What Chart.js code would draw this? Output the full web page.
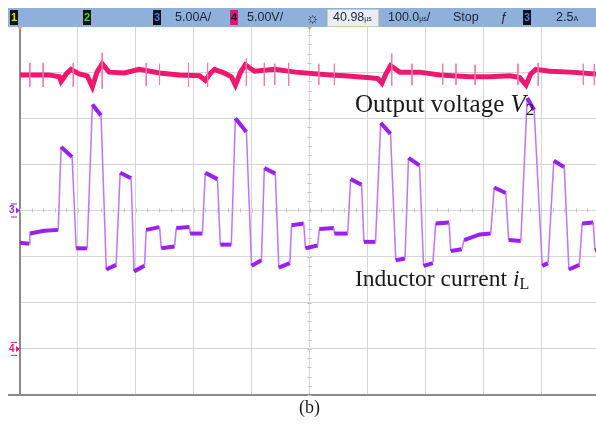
<!DOCTYPE html>
<html>
<head>
<meta charset="utf-8">
<script src="https://cdn.jsdelivr.net/npm/chart.js@4"></script>
<style>
  body { margin: 0; background: #fff; overflow: hidden; width: 596px; height: 426px; position: relative; font-family: "Liberation Sans", Arial, sans-serif; }
  #wrap { position: absolute; left: 0; top: 0; width: 600px; height: 426px; }
  #bar { position: absolute; left: 8px; top: 8px; width: 588px; height: 19px; background: #8fb0da; }
  .t { position: absolute; top: 0; font-size: 12.5px; line-height: 19px; color: #1c2433; white-space: nowrap; }
  .t small { font-size: 7px; }
  .box { position: absolute; top: 2px; width: 8px; height: 15px; background: #111; font-size: 11px; line-height: 15px; text-align: center; font-weight: bold; }
  .lbl { position: absolute; font-family: "Liberation Serif", "Times New Roman", serif; color: #1a1a1a; white-space: nowrap; }
  .lbl sub { font-size: 0.68em; vertical-align: -0.18em; }
</style>
</head>
<body>
<div id="wrap"><canvas id="scope"></canvas></div>

<div id="bar">
  <div class="box" style="left:2px;color:#e8dc10">1</div>
  <div class="box" style="left:75px;color:#2ee02e">2</div>
  <div class="box" style="left:145px;color:#3a7cff">3</div>
  <div class="t" style="left:167px">5.00A/</div>
  <div class="box" style="left:222px;background:#e8107a;color:#111">4</div>
  <div class="t" style="left:239px">5.00V/</div>
  <div class="t" style="left:298px;font-size:15px">&#9788;</div>
  <div style="position:absolute;left:319px;top:1px;width:50px;height:16px;background:#e9eef6;border:1px solid #c8cfa8"></div>
  <div class="t" style="left:325px">40.98<small>µs</small></div>
  <div class="t" style="left:380px">100.0<small>µs</small>/</div>
  <div class="t" style="left:445px">Stop</div>
  <div class="t" style="left:492px;font-style:italic">&#402;</div>
  <div class="box" style="left:515px;color:#3a7cff">3</div>
  <div class="t" style="left:548px">2.5<small>A</small></div>
</div>

<div class="lbl" style="left:355px;top:91px;font-size:25px;line-height:25px">Output voltage <i>V</i><sub>2</sub></div>
<div class="lbl" style="left:355px;top:267px;font-size:23.5px;line-height:23.5px">Inductor current <i>i</i><sub>L</sub></div>
<div class="lbl" style="left:299px;top:398px;font-size:18px;line-height:18px">(b)</div>

<script>
// time axis: 0..1000 us (100 us/div)
// channel 3: inductor current [A], 5 A/div, ground at centre line
// channel 4: output voltage [V], 5 V/div, ground 3 div below centre

var currentT = [0, 16, 17, 42, 66, 71, 90, 97, 116, 125, 140, 149, 166, 173, 192, 197, 215, 218, 241, 244,
    267, 270, 293, 294, 315, 320, 341, 346, 365, 372, 391, 400, 417, 422, 441, 447, 466, 469, 490, 493,
    514, 517, 542, 543, 566, 571, 590, 594, 614, 623, 640, 649, 665, 671, 690, 697, 713, 718, 741, 744,
    763, 767, 794, 813, 819, 839, 844, 865, 876, 888, 902, 912, 922, 940, 948, 966, 971, 990, 993, 1000];
var currentA = [-3.5, -3.6, -2.5, -2.2, -2.1, 6.9, 5.8, -4.1, -4.1, 11.5, 10.3, -6.4, -5.9, 4.1, 3.5, -6.6, -6.0, -2.1, -1.8, -4.1,
    -3.9, -1.9, -1.8, -2.5, -2.5, 4.1, 3.4, -3.7, -3.7, 10.0, 8.5, -6.0, -5.4, 4.6, 4.0, -6.2, -5.7, -1.6, -1.4, -4.1,
    -3.8, -2.0, -1.9, -2.5, -2.5, 3.4, 2.8, -3.4, -3.4, 9.5, 8.3, -5.4, -5.2, 5.7, 4.9, -6.0, -5.7, -1.4, -1.3, -4.4,
    -4.2, -3.2, -2.6, -2.5, 2.5, 1.9, -3.2, -3.3, 12.2, 10.9, -6.0, -5.7, 5.4, 4.7, -6.4, -5.9, -1.4, -1.3, -4.3, -4.3];

var voltageT = [0, 50, 68, 71, 80, 88, 102, 116, 125, 133, 142, 154, 180, 206, 241, 275, 310, 320, 329, 336,
    353, 365, 372, 381, 389, 405, 440, 476, 535, 561, 604, 618, 625, 632, 640, 656, 690, 725, 777, 811,
    846, 863, 874, 882, 891, 915, 950, 995, 1000];
var voltageV = [29.7, 29.7, 29.5, 29.0, 29.8, 30.3, 29.8, 29.6, 28.4, 30.0, 30.9, 30.0, 29.9, 30.3, 29.9, 29.7, 29.6, 29.1, 29.9, 30.3,
    29.9, 29.5, 28.6, 30.0, 30.8, 30.1, 30.3, 30.0, 29.7, 29.6, 29.4, 29.3, 28.8, 29.8, 30.7, 30.0, 30.0, 29.7, 29.5, 29.5,
    29.6, 29.4, 28.6, 29.8, 30.3, 30.1, 30.0, 29.8, 29.8];

// switching spikes on the voltage trace
var spikeT = [17, 40, 92, 142, 218, 241, 291, 324, 391, 422, 440, 464, 516, 543, 642, 677, 730, 753, 786, 860, 895, 973, 992];
var spikeHi = [31.0, 31.0, 31.0, 32.1, 31.0, 30.9, 31.0, 31.0, 31.5, 31.0, 30.9, 31.0, 30.9, 30.9, 32.0, 30.9, 30.9, 30.9, 30.8, 30.9, 31.0, 30.9, 30.9];
var spikeLo = [28.4, 28.4, 28.4, 28.2, 28.5, 28.6, 28.4, 28.4, 28.5, 28.5, 28.6, 28.5, 28.6, 28.6, 28.5, 28.6, 28.6, 28.6, 28.6, 28.6, 28.5, 28.6, 28.6];

var ampsPerDiv = 5, voltsPerDiv = 5;
var ch3Ground = 0, ch4Ground = -3;

var currentData = currentT.map(function (t, i) { return { x: t, y: currentA[i] / ampsPerDiv + ch3Ground }; });
var voltageData = voltageT.map(function (t, i) { return { x: t, y: voltageV[i] / voltsPerDiv + ch4Ground }; });
var spikeData = [];
spikeT.forEach(function (t, i) {
    spikeData.push({ x: t, y: spikeHi[i] / voltsPerDiv + ch4Ground });
    spikeData.push({ x: t, y: spikeLo[i] / voltsPerDiv + ch4Ground });
    spikeData.push({ x: t, y: null });
});

function isSteep(ctx) {
    return Math.abs(ctx.p1.y - ctx.p0.y) > 3 * Math.abs(ctx.p1.x - ctx.p0.x);
}

// grid decorations: minor ticks on the centre lines, channel / trigger markers
var scopeDecor = {
    id: 'scopeDecor',
    beforeDatasetsDraw: function (chart) {
        var c = chart.ctx, xs = chart.scales.x, ys = chart.scales.y;
        var cx = xs.getPixelForValue(500), cy = ys.getPixelForValue(0);
        c.save();
        c.strokeStyle = '#c4c4c4';
        c.lineWidth = 1;
        c.beginPath();
        for (var t = 0; t <= 1000; t += 20) {
            var px = Math.round(xs.getPixelForValue(t)) + 0.5;
            c.moveTo(px, cy - 2); c.lineTo(px, cy + 2);
        }
        for (var v = -4; v <= 4; v += 0.2) {
            var py = Math.round(ys.getPixelForValue(v)) + 0.5;
            c.moveTo(cx - 2, py); c.lineTo(cx + 2, py);
        }
        c.stroke();
        // bottom line runs out to the left
        c.strokeStyle = '#8a8a8a';
        c.lineWidth = 2;
        c.beginPath();
        c.moveTo(8, chart.chartArea.bottom); c.lineTo(chart.chartArea.left, chart.chartArea.bottom);
        c.stroke();
        c.restore();
    },
    afterDraw: function (chart) {
        var c = chart.ctx, xs = chart.scales.x, ys = chart.scales.y;
        var top = chart.chartArea.top;
        c.save();
        c.fillStyle = '#f0a040';
        [0, 500].forEach(function (t) {
            var px = xs.getPixelForValue(t);
            c.beginPath();
            c.moveTo(px - 3, top); c.lineTo(px + 3, top); c.lineTo(px, top + 4);
            c.fill();
        });
        c.font = 'bold 10px "Liberation Sans", Arial, sans-serif';
        c.textBaseline = 'middle';
        [[ch3Ground, '#a020f0', '3'], [ch4Ground, '#f0186e', '4']].forEach(function (m) {
            var py = ys.getPixelForValue(m[0]);
            c.fillStyle = m[1];
            c.fillText(m[2], 9, py);
            c.beginPath();
            c.moveTo(16, py - 3); c.lineTo(20, py); c.lineTo(16, py + 3);
            c.fill();
            c.fillRect(11, py - 7, 6, 1);
            c.fillRect(11, py + 6, 6, 1);
        });
        c.restore();
    }
};

new Chart(document.getElementById('scope'), {
    type: 'line',
    data: {
        datasets: [{
            label: 'spikes',
            data: spikeData,
            borderColor: '#f57aaa',
            borderWidth: 1,
            pointRadius: 0,
            spanGaps: false
        }, {
            label: 'Output voltage V2',
            data: voltageData,
            borderColor: '#f0186e',
            borderWidth: 5,
            pointRadius: 0,
            tension: 0
        }, {
            label: 'Inductor current iL',
            data: currentData,
            borderColor: '#9b1ff2',
            borderWidth: 4,
            pointRadius: 0,
            tension: 0,
            segment: {
                borderWidth: function (ctx) { return isSteep(ctx) ? 1.5 : 4; },
                borderColor: function (ctx) { return isSteep(ctx) ? '#c273ff' : '#9b1ff2'; }
            }
        }]
    },
    options: {
        responsive: true,
        maintainAspectRatio: false,
        animation: false,
        events: [],
        layout: { padding: { left: 20, top: 26, right: 1, bottom: 31 } },
        plugins: { legend: { display: false }, tooltip: { enabled: false } },
        scales: {
            x: {
                type: 'linear', min: 0, max: 1000,
                ticks: { display: false, stepSize: 100 },
                grid: { color: '#d6d6d6', lineWidth: 1, drawTicks: false },
                border: { display: true, color: '#8a8a8a', width: 2 }
            },
            y: {
                min: -4, max: 4,
                ticks: { display: false, stepSize: 1 },
                grid: { color: '#d6d6d6', lineWidth: 1, drawTicks: false },
                border: { display: true, color: '#8a8a8a', width: 2 }
            }
        }
    },
    plugins: [scopeDecor]
});
</script>
</body>
</html>
